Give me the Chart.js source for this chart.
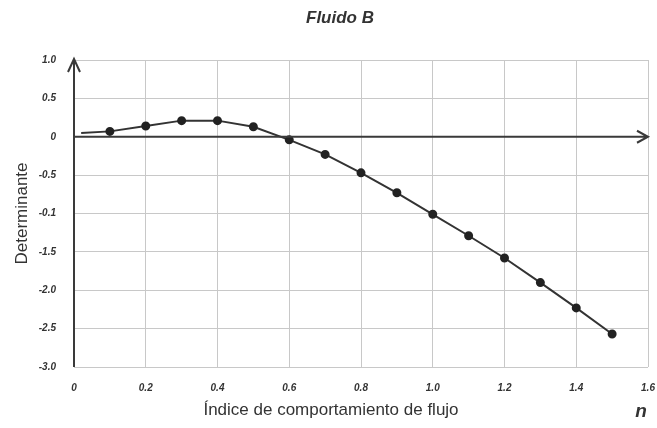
<!DOCTYPE html>
<html>
<head>
<meta charset="utf-8">
<script src="https://cdn.jsdelivr.net/npm/chart.js@4/dist/chart.umd.min.js"></script>
<style>
  html, body { margin: 0; padding: 0; background: #fff; }
  #wrap { width: 657px; height: 428px; }
</style>
</head>
<body>
<div id="wrap"><canvas id="chart" width="657" height="428"></canvas></div>
<script>
// datos
const nValues = [0.02, 0.1, 0.2, 0.3, 0.4, 0.5, 0.6, 0.7, 0.8, 0.9, 1.0, 1.1, 1.2, 1.3, 1.4, 1.5];
const detValues = [0.05, 0.07, 0.14, 0.21, 0.21, 0.13, -0.04, -0.23, -0.47, -0.73, -1.01, -1.29, -1.58, -1.90, -2.23, -2.57];
const yTickLabels = {"1": "1.0", "0.5": "0.5", "0": "0", "-0.5": "-0.5", "-1": "-0.1", "-1.5": "-1.5", "-2": "-2.0", "-2.5": "-2.5", "-3": "-3.0"};
const xTickLabels = {"0": "0", "0.2": "0.2", "0.4": "0.4", "0.6": "0.6", "0.8": "0.8", "1": "1.0", "1.2": "1.2", "1.4": "1.4", "1.6": "1.6"};

const chartTitle = "Fluido B";
const xTitle = "Índice de comportamiento de flujo";
const yTitle = "Determinante";

const dark = "#333333";
const tickFont = { family: "'Liberation Sans', Arial, sans-serif", size: 10, weight: "bold", style: "italic" };

// ejes con flecha y textos
const axisArrows = {
  id: "axisArrows",
  afterDatasetsDraw(chart) {
    const { ctx, chartArea, scales } = chart;
    const x0 = scales.x.getPixelForValue(0);
    const y0 = scales.y.getPixelForValue(0);
    ctx.save();
    ctx.strokeStyle = "#3a3a3a";
    ctx.lineWidth = 2;
    // eje y
    ctx.beginPath();
    ctx.moveTo(x0, chartArea.bottom);
    ctx.lineTo(x0, chartArea.top - 1);
    ctx.moveTo(x0 - 6, chartArea.top + 12);
    ctx.lineTo(x0, chartArea.top - 1);
    ctx.lineTo(x0 + 6, chartArea.top + 12);
    ctx.stroke();
    // eje x
    ctx.beginPath();
    ctx.moveTo(x0, y0);
    ctx.lineTo(chartArea.right, y0);
    ctx.moveTo(chartArea.right - 11, y0 - 6);
    ctx.lineTo(chartArea.right, y0);
    ctx.lineTo(chartArea.right - 11, y0 + 6);
    ctx.stroke();

    ctx.fillStyle = dark;
    ctx.textAlign = "center";
    ctx.textBaseline = "middle";
    ctx.font = "italic bold 17px 'Liberation Sans', Arial, sans-serif";
    ctx.fillText(chartTitle, 340, 18);
    ctx.font = "17px 'Liberation Sans', Arial, sans-serif";
    ctx.fillText(xTitle, 331, 410);
    ctx.font = "italic bold 19px 'Liberation Sans', Arial, sans-serif";
    ctx.fillText("n", 641, 412);
    ctx.restore();
  }
};

new Chart(document.getElementById("chart"), {
  type: "line",
  data: {
    datasets: [{
      data: nValues.map((n, i) => ({ x: n, y: detValues[i] })),
      borderColor: dark,
      borderWidth: 2,
      backgroundColor: "#222",
      pointBackgroundColor: "#222",
      pointBorderColor: "#222",
      pointRadius: ctx => ctx.dataIndex === 0 ? 0 : 3.5,
      tension: 0
    }]
  },
  options: {
    responsive: false,
    animation: false,
    layout: { padding: { top: 60, right: 9, left: 0, bottom: 0 } },
    plugins: { legend: { display: false }, tooltip: { enabled: false }, title: { display: false } },
    scales: {
      x: {
        type: "linear",
        min: 0,
        max: 1.6,
        afterFit: s => { s.height = 61; s.paddingLeft = 0; s.paddingRight = 0; },
        ticks: {
          stepSize: 0.2,
          padding: 15,
          color: dark,
          font: tickFont,
          maxRotation: 0,
          callback: v => xTickLabels[String(Math.round(v * 10) / 10)] ?? ""
        },
        grid: { color: "#c8c8c8", lineWidth: 1, drawTicks: false },
        border: { display: false }
      },
      y: {
        min: -3,
        max: 1,
        afterFit: s => { s.width = 74; },
        ticks: {
          stepSize: 0.5,
          padding: 18,
          color: dark,
          font: tickFont,
          callback: v => yTickLabels[String(Math.round(v * 10) / 10)] ?? ""
        },
        grid: { color: "#c8c8c8", lineWidth: 1, drawTicks: false },
        border: { display: false },
        title: {
          display: true,
          text: yTitle,
          color: dark,
          font: { family: "'Liberation Sans', Arial, sans-serif", size: 17 },
          padding: { top: 12, bottom: 0 }
        }
      }
    }
  },
  plugins: [axisArrows]
});
</script>
</body>
</html>
